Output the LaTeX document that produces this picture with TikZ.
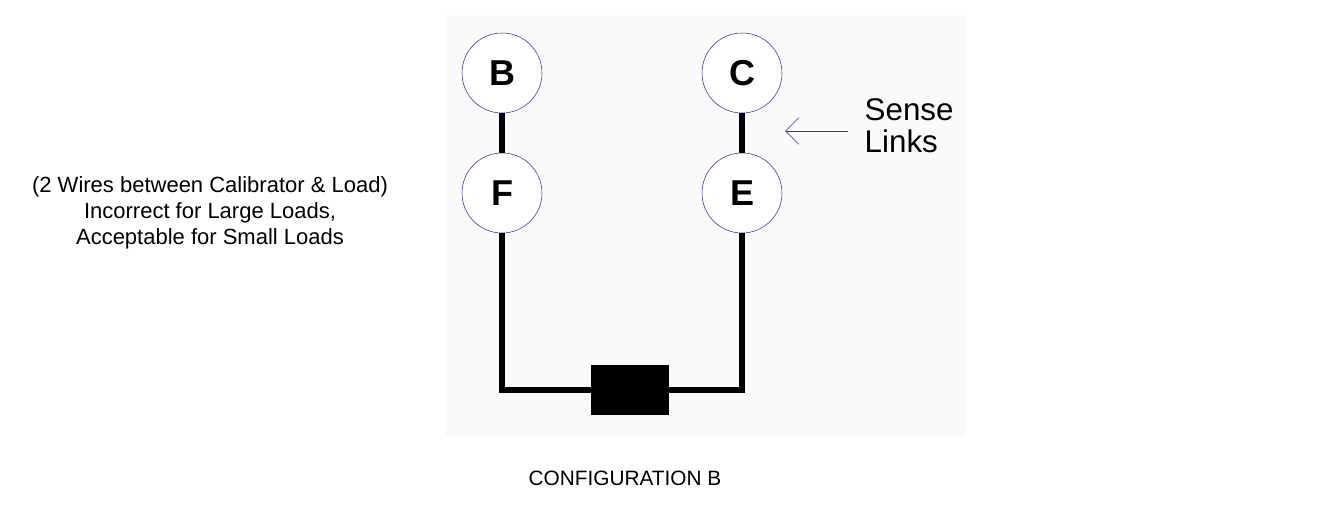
\documentclass[tikz,border=0pt]{standalone}
\usepackage{fontspec}
\setmainfont{Liberation Sans}
\usetikzlibrary{positioning}
\usetikzlibrary{arrows.meta}
\definecolor{linkblue}{RGB}{60,40,170}
\definecolor{panel}{RGB}{250,250,250}
\tikzset{%
  term/.style = {circle,draw=linkblue,thin,fill=white,minimum size=60pt,
        inner sep=0pt,font=\fontsize{27}{27}\selectfont\bfseries},
  wire/.style = {line width=4.5pt,black},
  load/.style = {rectangle,fill=black,minimum width=58pt,minimum height=38pt,inner sep=0pt},
  note/.style = {align=center,font=\fontsize{16.5}{19.5}\selectfont}
}

\begin{document}
\begin{tikzpicture}[x=0.75pt,y=-0.75pt]
    \useasboundingbox (0,0) rectangle (1318,516);
    \fill[panel] (445,15) rectangle (965,437);
    \node[term] (B) at (502,73) {B};
    \node[term] (F) at (502,193) {F};
    \node[term] (C) at (742,73) {C};
    \node[term] (E) at (742,193) {E};
    \node[load] (R) at (630,390) {};
    \coordinate (fl) at (502,390);
    \coordinate (el) at (742,390);
    \draw[wire] (B) -- (F);
    \draw[wire] (C) -- (E);
    \draw[wire] (F) -- (fl) -- (R);
    \draw[wire] (E) -- (el) -- (R);
    \node[anchor=west,align=left,font=\fontsize{23.5}{24}\selectfont] (sense) at (860,126) {Sense\\Links};
    \coordinate (tip) at (785,131);
    \draw[linkblue,thin,-{Straight Barb[length=10pt,width=20pt]}] (sense.west |- tip) ++(-12,0) -- (tip);
    \node[note] (lbl) at (210,213) {(2 Wires between Calibrator \& Load)\\Incorrect for Large Loads,\\Acceptable for Small Loads};
    \node[note,font=\fontsize{15.6}{18}\selectfont] (cap) at (625,478) {CONFIGURATION B};
\end{tikzpicture}
\end{document}
